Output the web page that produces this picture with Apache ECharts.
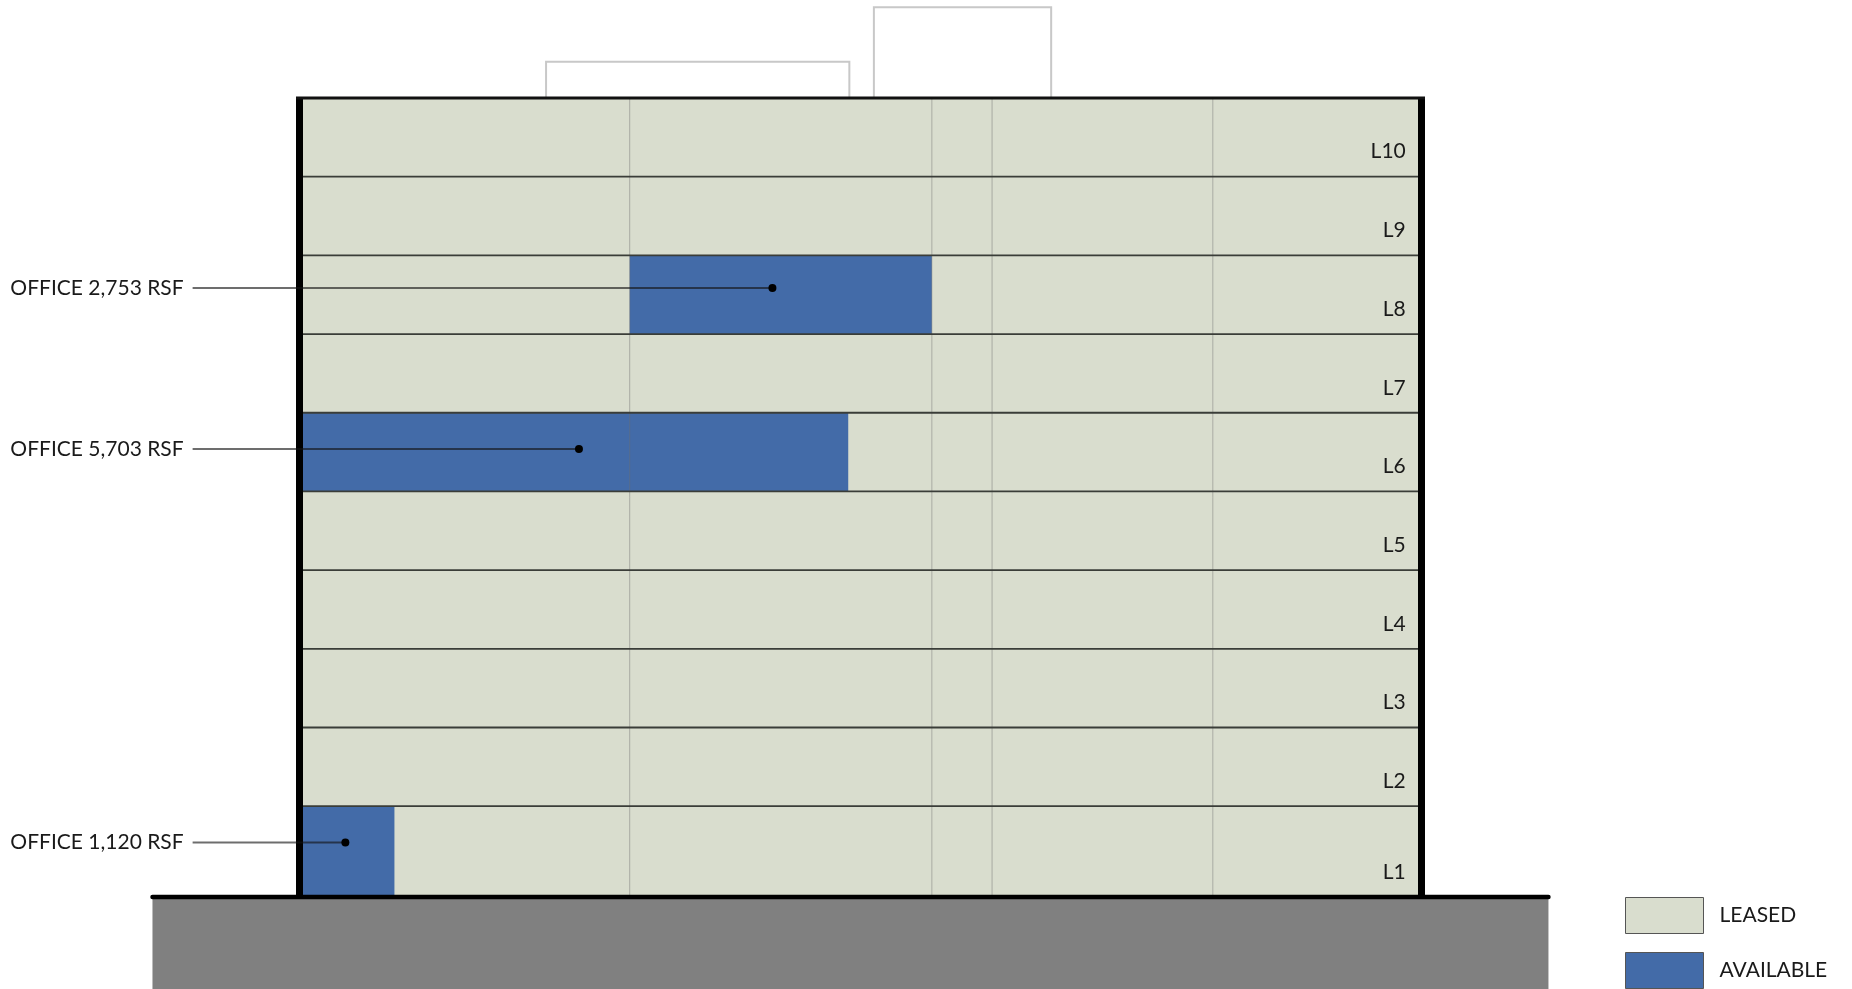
<!DOCTYPE html>
<html lang="en">
<head>
  <meta charset="UTF-8">
  <title>Stacking plan</title>
  <script src="https://cdn.jsdelivr.net/npm/echarts@6/dist/echarts.min.js"></script>
  <style>
    body {
      margin: 0;
      background: #fff;
    }

    #main {
      width: 1852px;
      height: 989px;
    }
  </style>
</head>
<body>
<div id="main"></div>
<script>
  // floors, bottom to top; elevations in ft (L1 is taller)
  var floors = ['L1', 'L2', 'L3', 'L4', 'L5', 'L6', 'L7', 'L8', 'L9', 'L10'];
  var floorElev = [0, 15, 28, 41, 54, 67, 80, 93, 106, 119, 132];
  // x runs 0..100 across the building width
  var columnLines = [29.3, 56.4, 61.8, 81.6];
  // available suites: floor index, from x, to x
  var available = [
    [0, 0, 8.2],
    [5, 0, 48.9],
    [7, 29.3, 56.4]
  ];
  // callouts: label, dot x, dot elevation
  var callouts = [
    ['OFFICE 2,753 RSF', 42.1, 100.6],
    ['OFFICE 5,703 RSF', 24.75, 74.0],
    ['OFFICE 1,120 RSF', 3.8, 9.0]
  ];
  var calloutStartX = -9.9;
  // rooftop boxes: from x, to x, height above roof
  var roofBoxes = [
    [21.8, 49.0, 6],
    [51.2, 67.1, 15]
  ];
  var groundSpan = [-13.5, 111.7];
  var groundDepth = -16.5;

  var LEASED_COLOR = '#d9ddce';
  var AVAIL_COLOR = '#436ba8';
  var FONT = 'Lato, "Open Sans", sans-serif';

  var myChart = echarts.init(document.getElementById('main'));

  function rectItem(color) {
    return function (params, api) {
      var p0 = api.coord([api.value(0), api.value(2)]);
      var p1 = api.coord([api.value(1), api.value(3)]);
      return {
        type: 'rect',
        shape: {x: p0[0], y: p1[1], width: p1[0] - p0[0], height: p0[1] - p1[1]},
        style: {fill: color}
      };
    }
  }

  var roofElev = floorElev[floorElev.length - 1];

  // building shell, grid lines, roof, ground
  function shellItem(params, api) {
    var kids = [];
    var bl = api.coord([0, 0]), tr = api.coord([100, roofElev]);

    columnLines.forEach(function (x) {
      var a = api.coord([x, 0]), b = api.coord([x, roofElev]);
      kids.push({type: 'line', shape: {x1: a[0], y1: a[1], x2: b[0], y2: b[1]},
        style: {stroke: 'rgba(110,110,110,0.45)', lineWidth: 1}});
    });
    for (var i = 1; i < floorElev.length - 1; i++) {
      var a = api.coord([0, floorElev[i]]), b = api.coord([100, floorElev[i]]);
      kids.push({type: 'line', shape: {x1: a[0], y1: a[1], x2: b[0], y2: b[1]},
        style: {stroke: '#3a3d38', lineWidth: 1.8}});
    }
    roofBoxes.forEach(function (r) {
      var p = [
        api.coord([r[0], roofElev]), api.coord([r[0], roofElev + r[2]]),
        api.coord([r[1], roofElev + r[2]]), api.coord([r[1], roofElev])
      ];
      kids.push({type: 'polyline', shape: {points: p},
        style: {stroke: '#c8c8c8', lineWidth: 2, fill: null}});
    });
    // ground
    var g0 = api.coord([groundSpan[0], 0]), g1 = api.coord([groundSpan[1], groundDepth]);
    kids.push({type: 'rect', shape: {x: g0[0], y: g0[1], width: g1[0] - g0[0], height: g1[1] - g0[1]},
      style: {fill: '#808080'}});
    kids.push({type: 'line', shape: {x1: g0[0], y1: g0[1], x2: g1[0], y2: g0[1]},
      style: {stroke: '#000', lineWidth: 4.5, lineCap: 'round'}});
    // walls + roof line
    kids.push({type: 'line', shape: {x1: bl[0] - 3.5, y1: bl[1], x2: bl[0] - 3.5, y2: tr[1] - 1},
      style: {stroke: '#000', lineWidth: 7}});
    kids.push({type: 'line', shape: {x1: tr[0] + 3.5, y1: bl[1], x2: tr[0] + 3.5, y2: tr[1] - 1},
      style: {stroke: '#000', lineWidth: 7}});
    kids.push({type: 'line', shape: {x1: bl[0] - 7, y1: tr[1], x2: tr[0] + 7, y2: tr[1]},
      style: {stroke: '#111', lineWidth: 3}});

    // floor labels
    floors.forEach(function (f, i) {
      var p = api.coord([98.9, floorElev[i]]);
      kids.push({type: 'text', style: {text: f, x: p[0], y: p[1] - 25, align: 'right', verticalAlign: 'middle',
          fill: '#1a1a1a', fontSize: 21, fontFamily: FONT}});
    });

    // callouts
    callouts.forEach(function (c) {
      var s = api.coord([calloutStartX, c[2]]), d = api.coord([c[1], c[2]]);
      kids.push({type: 'line', shape: {x1: s[0], y1: s[1], x2: d[0], y2: d[1]},
        style: {stroke: 'rgba(20,20,20,0.62)', lineWidth: 2}});
      kids.push({type: 'circle', shape: {cx: d[0], cy: d[1], r: 4}, style: {fill: '#000'}});
      kids.push({type: 'text', style: {text: c[0], x: s[0] - 9, y: s[1], align: 'right', verticalAlign: 'middle',
          fill: '#1a1a1a', fontSize: 21, fontFamily: FONT}});
    });

    return {type: 'group', children: kids};
  }

  var option = {
    animation: false,
    grid: {left: 303, right: 434, top: 98, bottom: 92},
    xAxis: {type: 'value', min: 0, max: 100, show: false},
    yAxis: {type: 'value', min: 0, max: roofElev, show: false},
    legend: {
      data: ['LEASED', 'AVAILABLE'],
      orient: 'vertical',
      left: 1625,
      top: 897,
      padding: 0,
      itemWidth: 78,
      itemHeight: 36,
      itemGap: 18,
      icon: 'rect',
      selectedMode: false,
      itemStyle: {borderColor: '#555', borderWidth: 1},
      textStyle: {fontSize: 21, fontFamily: FONT, color: '#1a1a1a', padding: [0, 0, 0, 11]}
    },
    series: [
      {
        name: 'LEASED',
        type: 'custom',
        clip: false,
        silent: true,
        itemStyle: {color: LEASED_COLOR, borderColor: '#555', borderWidth: 1},
        renderItem: rectItem(LEASED_COLOR),
        data: floors.map(function (f, i) {
          return [0, 100, floorElev[i], floorElev[i + 1]];
        })
      },
      {
        name: 'AVAILABLE',
        type: 'custom',
        clip: false,
        silent: true,
        itemStyle: {color: AVAIL_COLOR, borderColor: '#555', borderWidth: 1},
        renderItem: rectItem(AVAIL_COLOR),
        data: available.map(function (a) {
          return [a[1], a[2], floorElev[a[0]], floorElev[a[0] + 1]];
        })
      },
      {
        name: 'shell',
        type: 'custom',
        clip: false,
        silent: true,
        renderItem: shellItem,
        data: [[0, 0]]
      }
    ]
  };

  myChart.setOption(option);
</script>
</body>
</html>
